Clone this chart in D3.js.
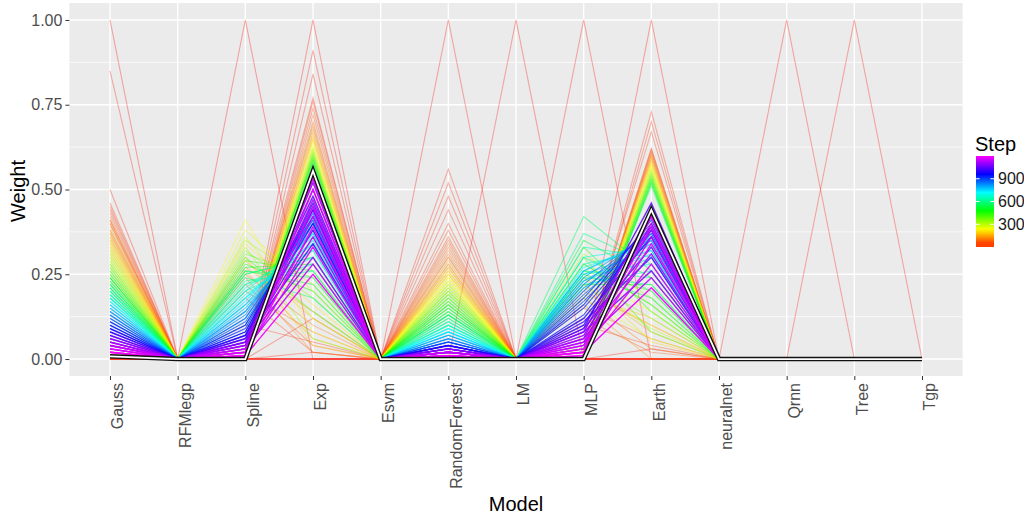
<!DOCTYPE html>
<html>
<head>
<meta charset="utf-8">
<script src="https://cdn.jsdelivr.net/npm/d3@7"></script>
<style>
  body { margin: 0; background: #fff; }
  svg { font-family: "Liberation Sans", Arial, sans-serif; }
</style>
</head>
<body>
<div id="chart"></div>
<script>
// ---- data ----
const models = ['Gauss', 'RFMlegp', 'Spline', 'Exp', 'Esvm', 'RandomForest', 'LM',
                'MLP', 'Earth', 'neuralnet', 'Qrnn', 'Tree', 'Tgp'];

// first steps: all weight on a single model
const oneHotSteps  = [1, 2, 3, 4, 5, 6, 7, 8, 9];
const oneHotModels = ['Gauss', 'Spline', 'Exp', 'RandomForest', 'LM', 'MLP', 'Earth', 'Qrnn', 'Tree'];

// later steps (models not listed stay at 0)
const steps = [12, 16, 20, 25, 30, 36, 42, 48, 55, 62, 70, 78, 86, 95, 104, 113, 122, 131, 140, 150,
  160, 170, 180, 190, 200, 212, 224, 236, 248, 260, 272, 284, 296, 308, 320, 332, 345, 358, 372, 386,
  400, 414, 428, 442, 456, 470, 484, 498, 512, 526, 540, 554, 568, 582, 596, 610, 624, 638, 652, 666,
  680, 694, 708, 722, 736, 750, 765, 780, 795, 810, 825, 840, 855, 870, 885, 900, 915, 930, 945, 980,
  1000, 1020, 1040, 1060, 1075, 1090, 1100, 1110, 1120, 1130, 1138, 1146, 1154, 1162, 1170, 1178, 1185, 1190, 1195, 1200];

const gauss = [.85, .50, 0, .46, 0, .44, .41, .45, .40, .43, .38, .42, .37, .41, .36, .40, .35, .39, .34, .38,
  .33, .37, .32, .36, .31, .35, .30, .34, .29, .33, .28, .32, .27, .31, .26, .30, .25, .29, .24, .28,
  .23, .27, .22, .26, .21, .25, .20, .24, .19, .24, .18, .23, .22, .21, .22, .20, .21, .19, .20, .18,
  .19, .17, .18, .16, .17, .15, .16, .14, .15, .13, .14, .12, .13, .11, .12, .10, .11, .09, .10, .09,
  .08, .08, .07, .07, .06, .06, .05, .05, .05, .04, .04, .04, .03, .03, .03, .02, .02, .02, .01, .01];

const spline = [0, 0, 0, 0, .02, .10, 0, .18, 0, .22, 0, .20, .02, .25, 0, .24, .03, .27, 0, .26,
  .02, .29, 0, .30, .03, .34, .02, .41, 0, .38, .04, .36, .02, .35, 0, .33, .03, .32, .02, .31,
  0, .30, .03, .29, .02, .28, 0, .27, .03, .26, .02, .25, .26, .24, .25, .23, .22, .22, .21, .20,
  .20, .19, .18, .18, .17, .16, .16, .15, .14, .14, .13, .12, .12, .11, .10, .10, .09, .08, .08, .07,
  .07, .06, .06, .05, .05, .05, .04, .04, .04, .03, .03, .03, .02, .02, .02, .01, .01, .01, .01, 0];

const expW = [.12, .91, .84, .02, .77, .05, .76, .02, .74, .04, .72, .08, .70, .10, .69, .02, .68, .14, .67, .06,
  .66, .12, .65, .04, .65, .16, .64, .08, .63, .20, .62, .12, .62, .22, .61, .06, .61, .18, .60, .24,
  .60, .14, .59, .26, .59, .20, .58, .28, .58, .22, .57, .30, .24, .18, .30, .26, .32, .28, .34, .30,
  .36, .32, .37, .34, .38, .35, .39, .37, .40, .38, .41, .40, .42, .41, .43, .42, .44, .44, .45, .40,
  .46, .34, .48, .38, .50, .30, .44, .52, .36, .47, .28, .42, .53, .33, .45, .50, .39, .25, .54, .55];

const randomForest = [0, 0, .56, .52, .48, .44, .40, .38, .36, .35, .34, .33, .31, .32, .30, .30, .29, .28, .28, .27,
  .27, .26, .26, .25, .25, .25, .24, .24, .23, .23, .22, .22, .22, .21, .21, .20, .20, .20, .19, .19,
  .18, .18, .17, .17, .16, .16, .15, .15, .14, .14, .13, .13, .13, .12, .12, .11, .11, .10, .10, .10,
  .09, .09, .09, .08, .08, .08, .07, .07, .07, .06, .06, .06, .05, .05, .05, .05, .04, .04, .04, .04,
  .04, .03, .03, .03, .03, .03, .02, .02, .02, .02, .02, .02, .01, .01, .01, .01, .01, .01, 0, 0];

const mlp = [0, 0, 0, 0, 0, .02, 0, .10, 0, .12, 0, .15, 0, .18, .02, .20, 0, .16, .03, .22,
  0, .19, .02, .24, 0, .21, .03, .25, 0, .18, .02, .28, 0, .22, .03, .31, 0, .24, .02, .30,
  0, .26, .03, .33, 0, .22, .02, .28, 0, .35, .03, .25, .42, .30, .26, .37, .24, .33, .22, .28,
  .25, .30, .21, .27, .23, .26, .25, .26, .23, .24, .21, .22, .19, .20, .17, .18, .15, .16, .13, .12,
  .10, .11, .09, .09, .08, .08, .07, .06, .06, .05, .05, .04, .04, .03, .03, .02, .02, .02, .01, .01];

const earth = [.03, 0, 0, .73, .70, .67, .62, .04, .61, .02, .62, .06, .61, .03, .60, .10, .60, 0, .59, .08,
  .59, .12, .58, .05, .58, .10, .57, .14, .57, .06, .56, .16, .56, .09, .55, .18, .55, .12, .54, .08,
  .54, .20, .53, .14, .53, .22, .52, .16, .52, .24, .51, .18, .26, .20, .24, .28, .22, .30, .26, .32,
  .28, .33, .30, .34, .31, .35, .32, .36, .34, .37, .35, .38, .36, .39, .37, .40, .38, .41, .39, .36,
  .42, .30, .46, .33, .43, .26, .38, .44, .31, .40, .24, .36, .43, .28, .39, .42, .34, .21, .44, .44];

// highlighted final weights (white line, black outline)
const finalWeights = [0.008, 0, 0, 0.555, 0, 0, 0, 0, 0.44, 0, 0, 0, 0];

const yTicks = [0, 0.25, 0.5, 0.75, 1];
const yMinor = [0.125, 0.375, 0.625, 0.875];
const legendTicks = [300, 600, 900];
const stepRange = [1, 1200];

// ---- build rows: one weight per model ----
const series = { Gauss: gauss, Spline: spline, Exp: expW, RandomForest: randomForest, MLP: mlp, Earth: earth };
let rows = oneHotSteps.map((s, i) => ({ step: s, w: models.map(m => m === oneHotModels[i] ? 1 : 0) }));
rows = rows.concat(steps.map((s, i) => ({
  step: s,
  w: models.map(m => series[m] ? series[m][i] : 0)
})));

// ---- layout ----
const width = 1024, height = 519;
const panel = { x0: 69.4, x1: 962.6, y0: 3, y1: 376 };

const svg = d3.select('#chart').append('svg')
  .attr('width', width).attr('height', height);

const x = d3.scalePoint(models, [panel.x0, panel.x1]).padding(0.6);
const y = d3.scaleLinear([-0.05, 1.05], [panel.y1, panel.y0]);

const hue = d3.scaleLinear(stepRange, [2, 300]);
const color = s => d3.hsl(hue(s), 1, 0.5).formatHex();
const alpha = d3.scaleLinear([1, 600, 1200], [0.32, 0.5, 0.95]);

// panel background + grid
svg.append('rect')
  .attr('x', panel.x0).attr('y', panel.y0)
  .attr('width', panel.x1 - panel.x0).attr('height', panel.y1 - panel.y0)
  .attr('fill', '#ebebeb');

const grid = svg.append('g');
grid.selectAll('line.minor').data(yMinor).join('line')
  .attr('x1', panel.x0).attr('x2', panel.x1)
  .attr('y1', d => y(d)).attr('y2', d => y(d))
  .attr('stroke', '#fff').attr('stroke-width', 0.7);
grid.selectAll('line.hmajor').data(yTicks).join('line')
  .attr('x1', panel.x0).attr('x2', panel.x1)
  .attr('y1', d => y(d)).attr('y2', d => y(d))
  .attr('stroke', '#fff').attr('stroke-width', 1.4);
grid.selectAll('line.vmajor').data(models).join('line')
  .attr('x1', d => x(d)).attr('x2', d => x(d))
  .attr('y1', panel.y0).attr('y2', panel.y1)
  .attr('stroke', '#fff').attr('stroke-width', 1.4);

// lines
const line = d3.line().x((d, i) => x(models[i])).y(d => y(d));

svg.append('g').selectAll('path').data(rows).join('path')
  .attr('d', d => line(d.w))
  .attr('fill', 'none')
  .attr('stroke', d => color(d.step))
  .attr('stroke-opacity', d => alpha(d.step))
  .attr('stroke-width', d => d.step > 950 ? 1.4 : 1.1);

svg.append('path').attr('d', line(finalWeights))
  .attr('fill', 'none').attr('stroke', '#111').attr('stroke-width', 4.5);
svg.append('path').attr('d', line(finalWeights))
  .attr('fill', 'none').attr('stroke', '#fff').attr('stroke-width', 1.8);

// axes
const axisY = svg.append('g')
  .attr('transform', `translate(${panel.x0},0)`)
  .call(d3.axisLeft(y).tickValues(yTicks).tickFormat(d3.format('.2f')).tickSize(4).tickPadding(3));
const axisX = svg.append('g')
  .attr('transform', `translate(0,${panel.y1})`)
  .call(d3.axisBottom(x).tickSize(4).tickPadding(3));

[axisY, axisX].forEach(a => {
  a.select('.domain').remove();
  a.selectAll('.tick line').attr('stroke', '#333');
  a.selectAll('.tick text').attr('fill', '#4d4d4d').style('font-size', '16px');
});
axisX.selectAll('.tick text')
  .attr('transform', 'rotate(-90)')
  .attr('x', -7).attr('y', 0).attr('dy', '0.8em')
  .style('text-anchor', 'end');

// axis titles
svg.append('text')
  .attr('transform', 'translate(25,191)rotate(-90)')
  .style('text-anchor', 'middle').style('font-size', '20px').attr('fill', '#000')
  .text('Weight');
svg.append('text')
  .attr('x', (panel.x0 + panel.x1) / 2).attr('y', 511)
  .style('text-anchor', 'middle').style('font-size', '20px').attr('fill', '#000')
  .text('Model');

// legend (colour bar)
const defs = svg.append('defs');
const grad = defs.append('linearGradient').attr('id', 'stepGrad')
  .attr('x1', 0).attr('y1', 1).attr('x2', 0).attr('y2', 0);
d3.range(0, 1.0001, 0.05).forEach(t => {
  const s = stepRange[0] + t * (stepRange[1] - stepRange[0]);
  grad.append('stop').attr('offset', t).attr('stop-color', d3.hsl(Math.max(hue(s), 14), 1, 0.5).formatHex());
});

const legendY = d3.scaleLinear(stepRange, [247, 156]);
const legend = svg.append('g');
legend.append('text')
  .attr('x', 975).attr('y', 151)
  .style('font-size', '20px').attr('fill', '#000')
  .text('Step');
legend.append('rect')
  .attr('x', 976).attr('y', legendY(stepRange[1]))
  .attr('width', 18).attr('height', legendY(stepRange[0]) - legendY(stepRange[1]))
  .attr('fill', 'url(#stepGrad)');
legend.selectAll('line.tl').data(legendTicks).join('line')
  .attr('x1', 976).attr('x2', 979.6)
  .attr('y1', d => legendY(d)).attr('y2', d => legendY(d))
  .attr('stroke', '#fff').attr('stroke-width', 1);
legend.selectAll('line.tr').data(legendTicks).join('line')
  .attr('x1', 990.4).attr('x2', 994)
  .attr('y1', d => legendY(d)).attr('y2', d => legendY(d))
  .attr('stroke', '#fff').attr('stroke-width', 1);
legend.selectAll('text.lab').data(legendTicks).join('text')
  .attr('x', 998).attr('y', d => legendY(d)).attr('dy', '0.35em')
  .style('font-size', '16px').attr('fill', '#1a1a1a')
  .text(d => d);
</script>
</body>
</html>
